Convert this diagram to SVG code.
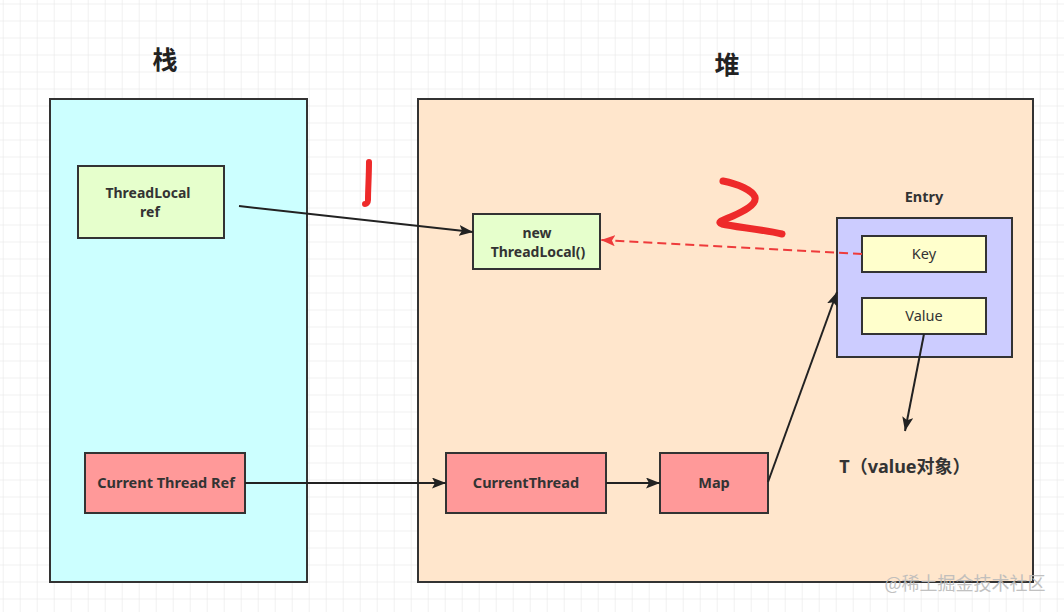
<svg xmlns="http://www.w3.org/2000/svg" width="1064" height="612" viewBox="0 0 1064 612">
<defs>
<pattern id="grid" x="3.7" y="4.5" width="17" height="17" patternUnits="userSpaceOnUse">
<path d="M17 0 V17 M0 17 H17" fill="none" stroke="#e3e3e3" stroke-width="1"/>
</pattern>
<marker id="arr" viewBox="0 0 14 11" refX="14" refY="5.5" markerWidth="14" markerHeight="11" markerUnits="userSpaceOnUse" orient="auto">
<path d="M0 0 L14 5.5 L0 11 L3 5.5 Z" fill="#222"/>
</marker>
<marker id="arrRed" viewBox="0 0 14 11" refX="14" refY="5.5" markerWidth="14" markerHeight="11" markerUnits="userSpaceOnUse" orient="auto">
<path d="M0 0 L14 5.5 L0 11 L3 5.5 Z" fill="#ee3b3b"/>
</marker>
</defs>
<style>
.box{stroke:#333;stroke-width:2}
.t{font-family:"Noto Sans","Noto Sans CJK SC",sans-serif;font-size:14.5px;fill:#333;text-anchor:middle}
.s{font-size:14px}
.b{font-weight:bold}
.title{font-family:"Noto Sans CJK SC","Noto Sans",sans-serif;font-size:25px;font-weight:bold;fill:#222;text-anchor:middle}
.conn{stroke:#222;stroke-width:2;fill:none}
.hand{stroke:#ee2a2a;fill:none;stroke-linecap:round;stroke-linejoin:round}
</style>
<rect width="1064" height="612" fill="#ffffff"/>
<rect width="1064" height="612" fill="url(#grid)"/>

<g id="stack">
<rect class="box" x="50" y="99" width="257" height="483" fill="#CCFFFF"/>
<text class="title" x="165" y="69">栈</text>
</g>
<g id="heap">
<rect class="box" x="418" y="99" width="615" height="483" fill="#FFE6CC"/>
<text class="title" x="727" y="74">堆</text>
</g>

<g id="threadlocal-ref">
<rect class="box" x="78" y="166" width="146" height="72" fill="#E6FFCC"/>
<text class="t b s" x="148" y="198">ThreadLocal</text>
<text class="t b s" x="150" y="217">ref</text>
</g>
<g id="new-threadlocal">
<rect class="box" x="473" y="214" width="127" height="55" fill="#E6FFCC"/>
<text class="t b s" x="537" y="238">new</text>
<text class="t b s" x="538" y="257">ThreadLocal()</text>
</g>
<g id="entry">
<rect class="box" x="837" y="218" width="175" height="139" fill="#CCCCFF"/>
<text class="t b" x="924" y="202">Entry</text>
</g>
<g id="key">
<rect class="box" x="862" y="236" width="124" height="36" fill="#FFFFCC"/>
<text class="t" x="924" y="259">Key</text>
</g>
<g id="value">
<rect class="box" x="862" y="298" width="124" height="36" fill="#FFFFCC"/>
<text class="t" x="924" y="321">Value</text>
</g>
<g id="current-thread-ref">
<rect class="box" x="85" y="453" width="160" height="60" fill="#FF9999"/>
<text class="t b" x="166" y="488">Current Thread Ref</text>
</g>
<g id="current-thread">
<rect class="box" x="446" y="453" width="160" height="60" fill="#FF9999"/>
<text class="t b" x="526" y="488">CurrentThread</text>
</g>
<g id="map">
<rect class="box" x="660" y="453" width="108" height="60" fill="#FF9999"/>
<text class="t b" x="714" y="488">Map</text>
</g>
<g id="t-value">
<text class="t b" x="905" y="473" style="font-size:18px">T（value对象）</text>
</g>

<g id="connectors">
<path class="conn" d="M239 206 L473 232" marker-end="url(#arr)"/>
<path class="conn" d="M245 483 L446 483" marker-end="url(#arr)"/>
<path class="conn" d="M606 483 L660 483" marker-end="url(#arr)"/>
<path class="conn" d="M768 482 L837 292" marker-end="url(#arr)"/>
<path class="conn" d="M924 334 L905 431" marker-end="url(#arr)"/>
<path d="M862 254 L601 240" stroke="#ee3b3b" stroke-width="2" stroke-dasharray="9 5" fill="none" marker-end="url(#arrRed)"/>
</g>

<g id="annotations">
<path class="hand" stroke-width="6" d="M369 162 C369 175 368 190 368 200 C368 203 366 204 365 204"/>
<path class="hand" stroke-width="7" d="M723 181 C738 184 752 190 755 197 C757 205 742 212 733 216 C724 220 716 222 722 224 C735 227 760 229 782 234"/>
</g>

<text x="965" y="590" style="font-family:'Noto Sans CJK SC','Noto Sans',sans-serif;font-size:18px;fill:#bbbbbb;text-anchor:middle;opacity:0.9">@稀土掘金技术社区</text>
</svg>
